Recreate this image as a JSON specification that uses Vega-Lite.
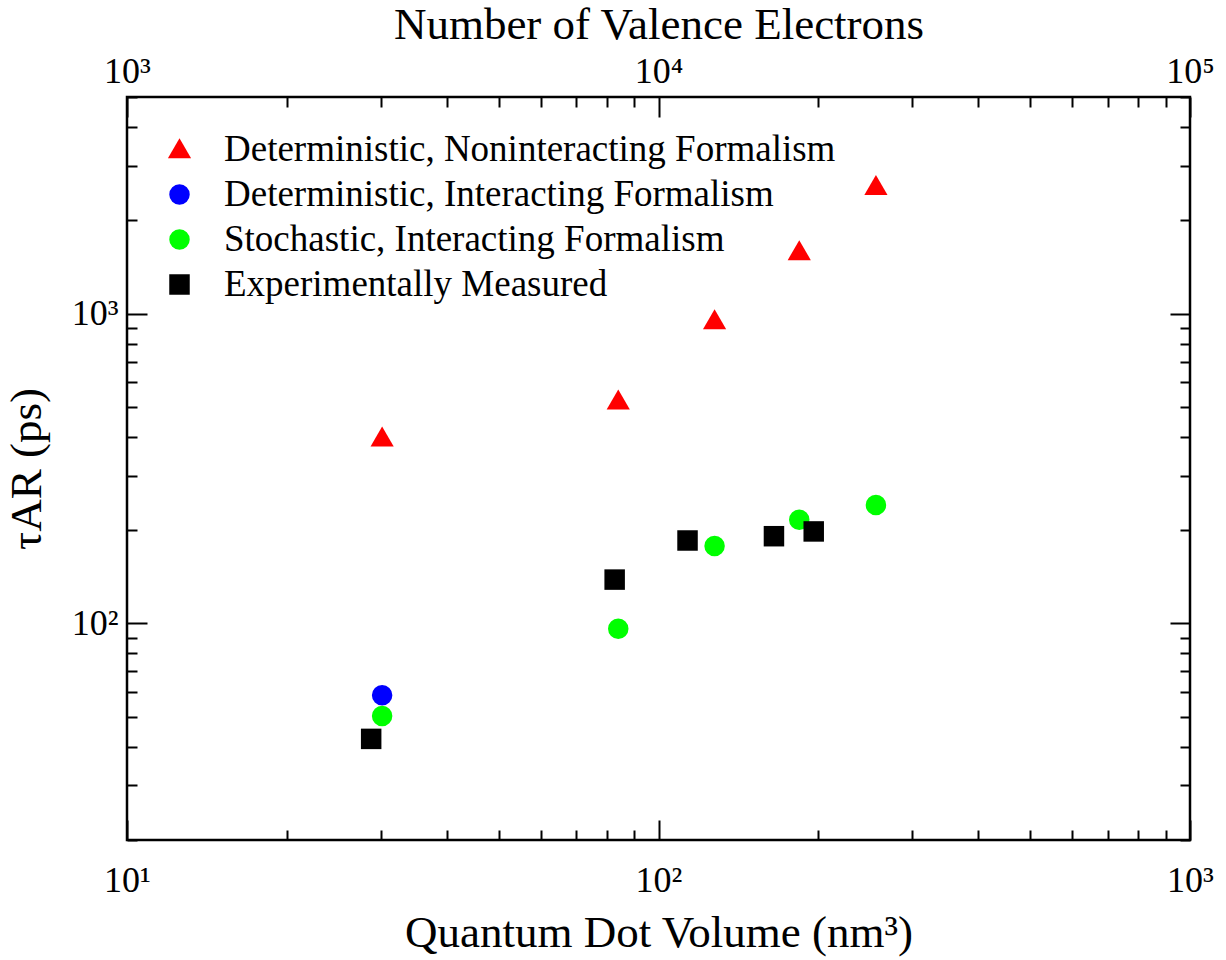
{
  "$schema": "https://vega.github.io/schema/vega-lite/v6.json",
  "width": 1063,
  "height": 743,
  "autosize": {"type": "none"},
  "padding": {"left": 127, "top": 97, "right": 36, "bottom": 120},
  "background": "white",
  "config": {
    "font": "Liberation Serif",
    "view": {"stroke": "black", "strokeWidth": 2.5},
    "axis": {
      "domain": false,
      "grid": false,
      "tickColor": "black",
      "tickWidth": 2,
      "labelColor": "black",
      "labelFontSize": 36,
      "labelFont": "Liberation Serif",
      "titleFont": "Liberation Serif",
      "titleFontSize": 45,
      "titleFontWeight": "normal",
      "titleColor": "black",
      "labelOverlap": false,
      "labelFlush": false,
      "labelBound": false
    },
    "legend": {
      "orient": "top-left",
      "offset": 34,
      "padding": 0,
      "labelFontSize": 37,
      "labelFont": "Liberation Serif",
      "labelColor": "black",
      "labelLimit": 2000,
      "symbolSize": 420,
      "rowPadding": 7,
      "labelOffset": 26,
      "symbolStrokeWidth": 0
    }
  },
  "data": {
    "values": [
      {"series": "Deterministic, Noninteracting Formalism", "volume": 30.2, "tau": 397},
      {"series": "Deterministic, Noninteracting Formalism", "volume": 84.0, "tau": 523},
      {"series": "Deterministic, Noninteracting Formalism", "volume": 127.5, "tau": 949},
      {"series": "Deterministic, Noninteracting Formalism", "volume": 184.0, "tau": 1587},
      {"series": "Deterministic, Noninteracting Formalism", "volume": 256.5, "tau": 2576},
      {"series": "Deterministic, Interacting Formalism", "volume": 30.2, "tau": 58.6},
      {"series": "Stochastic, Interacting Formalism", "volume": 30.2, "tau": 50.3},
      {"series": "Stochastic, Interacting Formalism", "volume": 84.0, "tau": 96.1},
      {"series": "Stochastic, Interacting Formalism", "volume": 127.5, "tau": 177.9},
      {"series": "Stochastic, Interacting Formalism", "volume": 184.0, "tau": 216},
      {"series": "Stochastic, Interacting Formalism", "volume": 256.5, "tau": 241},
      {"series": "Experimentally Measured", "volume": 28.8, "tau": 42.4},
      {"series": "Experimentally Measured", "volume": 82.7, "tau": 138.5},
      {"series": "Experimentally Measured", "volume": 113.4, "tau": 185.2},
      {"series": "Experimentally Measured", "volume": 164.9, "tau": 191.2},
      {"series": "Experimentally Measured", "volume": 195.9, "tau": 198.1}
    ]
  },
  "layer": [
    {
      "transform": [{"filter": "datum.series != 'Experimentally Measured'"}],
      "mark": {"type": "point", "filled": true, "opacity": 1, "size": 420},
      "encoding": {
        "x": {
          "field": "volume", "type": "quantitative",
          "scale": {"type": "log", "domain": [10, 1000], "nice": false},
          "axis": {
            "orient": "bottom",
            "title": "Quantum Dot Volume (nm³)",
            "values": [10, 20, 30, 40, 50, 60, 70, 80, 90, 100, 200, 300, 400, 500, 600, 700, 800, 900, 1000],
            "labelExpr": "datum.value == 10 ? '10¹' : datum.value == 100 ? '10²' : datum.value == 1000 ? '10³' : ''",
            "tickSize": {"condition": {"test": "datum.value == 10 || datum.value == 100 || datum.value == 1000", "value": -20}, "value": -10},
            "labelPadding": 43,
            "titlePadding": 2
          }
        },
        "y": {
          "field": "tau", "type": "quantitative",
          "scale": {"type": "log", "domain": [20, 5000], "nice": false},
          "axis": {
            "orient": "left",
            "title": "τAR (ps)",
            "values": [20, 30, 40, 50, 60, 70, 80, 90, 100, 200, 300, 400, 500, 600, 700, 800, 900, 1000, 2000, 3000, 4000, 5000],
            "labelExpr": "datum.value == 100 ? '10²' : datum.value == 1000 ? '10³' : ''",
            "tickSize": {"condition": {"test": "datum.value == 100 || datum.value == 1000", "value": -20}, "value": -10},
            "labelPadding": 29,
            "titlePadding": 22
          }
        },
        "color": {
          "field": "series", "type": "nominal",
          "scale": {
            "domain": ["Deterministic, Noninteracting Formalism", "Deterministic, Interacting Formalism", "Stochastic, Interacting Formalism", "Experimentally Measured"],
            "range": ["#ff0000", "#0000ff", "#00ff00", "#000000"]
          },
          "legend": {"title": null}
        },
        "shape": {
          "field": "series", "type": "nominal",
          "scale": {
            "domain": ["Deterministic, Noninteracting Formalism", "Deterministic, Interacting Formalism", "Stochastic, Interacting Formalism", "Experimentally Measured"],
            "range": ["M0,-1.1L1.13,0.85L-1.13,0.85Z", "circle", "circle", "square"]
          },
          "legend": {"title": null}
        }
      }
    },
    {
      "transform": [{"filter": "datum.series == 'Experimentally Measured'"}],
      "mark": {"type": "point", "filled": true, "opacity": 1, "size": 420},
      "encoding": {
        "x": {
          "field": "volume", "type": "quantitative",
          "scale": {"type": "log", "domain": [10, 1000], "nice": false},
          "axis": {
            "orient": "top",
            "title": "Number of Valence Electrons",
            "values": [10, 20, 30, 40, 50, 60, 70, 80, 90, 100, 200, 300, 400, 500, 600, 700, 800, 900, 1000],
            "labelExpr": "datum.value == 10 ? '10³' : datum.value == 100 ? '10⁴' : datum.value == 1000 ? '10⁵' : ''",
            "tickSize": {"condition": {"test": "datum.value == 10 || datum.value == 100 || datum.value == 1000", "value": -20}, "value": -10},
            "labelPadding": 27,
            "titlePadding": -4
          }
        },
        "y": {
          "field": "tau", "type": "quantitative",
          "scale": {"type": "log", "domain": [20, 5000], "nice": false},
          "axis": {
            "orient": "right",
            "title": null,
            "values": [20, 30, 40, 50, 60, 70, 80, 90, 100, 200, 300, 400, 500, 600, 700, 800, 900, 1000, 2000, 3000, 4000, 5000],
            "labels": false,
            "tickSize": {"condition": {"test": "datum.value == 100 || datum.value == 1000", "value": -20}, "value": -10}
          }
        },
        "color": {
          "field": "series", "type": "nominal",
          "scale": {
            "domain": ["Deterministic, Noninteracting Formalism", "Deterministic, Interacting Formalism", "Stochastic, Interacting Formalism", "Experimentally Measured"],
            "range": ["#ff0000", "#0000ff", "#00ff00", "#000000"]
          },
          "legend": {"title": null}
        },
        "shape": {
          "field": "series", "type": "nominal",
          "scale": {
            "domain": ["Deterministic, Noninteracting Formalism", "Deterministic, Interacting Formalism", "Stochastic, Interacting Formalism", "Experimentally Measured"],
            "range": ["M0,-1.1L1.13,0.85L-1.13,0.85Z", "circle", "circle", "square"]
          },
          "legend": {"title": null}
        }
      }
    }
  ],
  "resolve": {"axis": {"x": "independent", "y": "independent"}}
}
